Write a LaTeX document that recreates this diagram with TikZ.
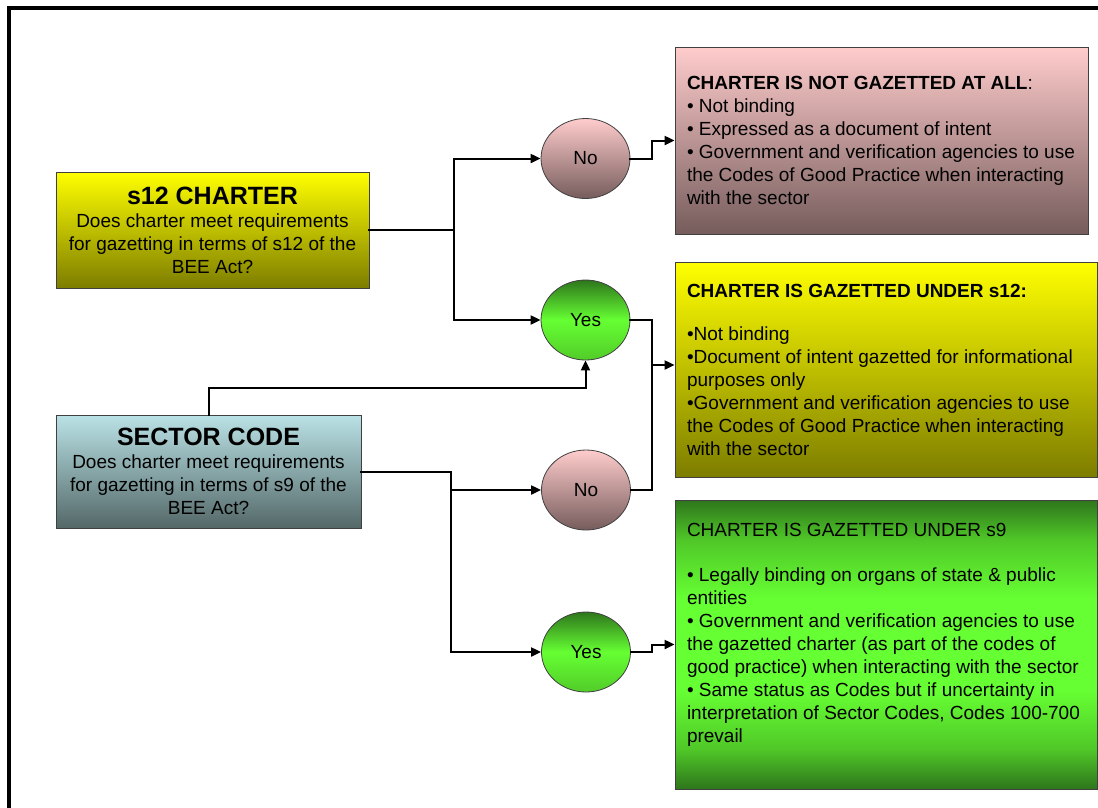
\documentclass[tikz,border=0pt]{standalone}
\usepackage{fontspec}
\setmainfont{Liberation Sans}
\usetikzlibrary{arrows.meta,positioning,shapes.geometric}
\tikzset{>/.tip={Triangle[length=10pt,width=9pt]}}
\definecolor{yelhi}{RGB}{255,255,0}
\definecolor{yello}{RGB}{125,125,0}
\definecolor{cyanhi}{RGB}{186,226,230}
\definecolor{cyanlo}{RGB}{84,104,104}
\definecolor{pinkhi}{RGB}{255,204,204}
\definecolor{pinklo}{RGB}{118,92,92}
\definecolor{grnlo}{RGB}{46,118,28}
\definecolor{grnmid}{RGB}{80,200,40}
\definecolor{grnhi}{RGB}{102,255,51}
\pgfdeclareverticalshading{grnband}{100bp}{color(0bp)=(grnlo); color(25bp)=(grnlo); color(32bp)=(grnmid);
  color(42bp)=(grnhi); color(58bp)=(grnhi); color(68bp)=(grnmid); color(75bp)=(grnlo); color(100bp)=(grnlo)}
\newcommand\bodyfont{\fontsize{19}{23}\selectfont}
\newcommand\headfont{\fontsize{25}{28}\selectfont\bfseries}
\newcommand\firstline[2]{\makebox[#1][l]{#2}}
\tikzset{
  qbox/.style={draw=black!75,line width=0.8pt,inner sep=0pt,align=center,font=\bodyfont},
  rbox/.style={draw=black!75,line width=0.8pt,inner sep=0pt,align=left,font=\bodyfont},
  answer/.style={ellipse,draw=black!75,line width=0.8pt,minimum width=89pt,minimum height=80pt,inner sep=0pt,font=\bodyfont},
  noans/.style={answer,top color=pinkhi,bottom color=pinklo},
  yesans/.style={answer,top color=grnlo,bottom color=grnhi!80!black,middle color=grnhi},
  link/.style={line width=2pt,line cap=rect},
  flow/.style={link,->},
}

\begin{document}
\begin{tikzpicture}[x=1pt,y=-1pt]
      \useasboundingbox (0,0) rectangle (1098,807);
      \draw[line width=4pt] (8.5,830) |- (1120,8);

      % questions
      \node[qbox,minimum width=313pt,minimum height=116pt,top color=yelhi,bottom color=yello] (s12) at (212.5,230)
        {{\headfont s12 CHARTER}\\Does charter meet requirements\\for gazetting in terms of s12 of the\\BEE Act?};
      \node[qbox,minimum width=305pt,minimum height=113pt,top color=cyanhi,bottom color=cyanlo] (sector) at (208.5,471.5)
        {{\headfont SECTOR CODE}\\Does charter meet requirements\\for gazetting in terms of s9 of the\\BEE Act?};

      % answers
      \node[noans] (no1) at (585.5,158.5) {No};
      \node[yesans] (yes1) at (585.5,320) {Yes};
      \node[noans] (no2) at (586,490) {No};
      \node[yesans] (yes2) at (586,652) {Yes};

      % outcomes
      \node[rbox,minimum width=413pt,minimum height=187pt,top color=pinkhi,bottom color=pinklo] (notgaz) at (881.5,140.5)
        {\firstline{389pt}{{\bfseries CHARTER IS NOT GAZETTED AT ALL}:}\\• Not binding\\• Expressed as a document of intent\\• Government and verification agencies to use\\the Codes of Good Practice when interacting\\with the sector};
      \node[rbox,minimum width=422pt,minimum height=215pt,top color=yelhi,bottom color=yello] (gaz12) at (886,369.5)
        {\firstline{398pt}{\bfseries CHARTER IS GAZETTED UNDER s12:}\\[20pt]•Not binding\\•Document of intent gazetted for informational\\purposes only\\•Government and verification agencies to use\\the Codes of Good Practice when interacting\\with the sector};
      \node[rbox,minimum width=422pt,minimum height=289pt,shade,shading=grnband] (gaz9) at (886,644.5)
        {\firstline{398pt}{CHARTER IS GAZETTED UNDER s9}\\[22pt]• Legally binding on organs of state \& public\\entities\\• Government and verification agencies to use\\the gazetted charter (as part of the codes of\\good practice) when interacting with the sector\\• Same status as Codes but if uncertainty in\\interpretation of Sector Codes, Codes 100-700\\prevail\\\mbox{}};

      \path (s12.east) ++(85,0) coordinate (s12j);
      \path (sector.east) ++(90,0) coordinate (secj);
      \path (yes1.east) ++(22,45) coordinate (m12);

      \draw[link] (s12.east) -- (s12j);
      \draw[flow] (s12j) |- (no1);
      \draw[flow] (s12j) |- (yes1);
      \draw[flow] (no1.east) -- ++(22,0) |- (notgaz.west);
      \draw[link] (yes1.east) -| (m12) (no2.east) -| (m12);
      \draw[flow] (m12) -- (m12 -| gaz12.west);
      \draw[link] (sector.east) -- (secj);
      \draw[flow] (secj) |- (no2);
      \draw[flow] (secj) |- (yes2);
      \draw[flow] (sector.north) -- ++(0,-27) -| (yes1.south);
      \draw[flow] (yes2.east) -- ++(21,0) |- (gaz9.west);
\end{tikzpicture}
\end{document}
